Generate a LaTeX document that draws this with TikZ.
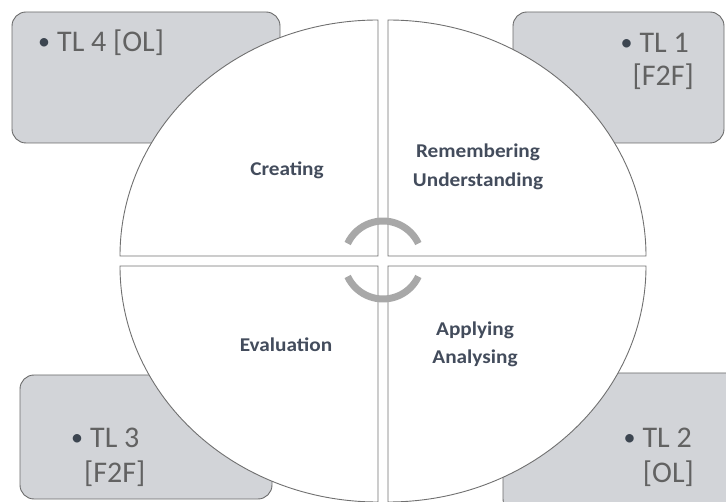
\documentclass[tikz,border=0pt]{standalone}
\usepackage{fontspec}
\setmainfont{Carlito}
\newfontfamily\labelfont[FakeStretch=1.09]{Carlito}
\definecolor{boxfill}{HTML}{D2D4D8}
\definecolor{boxline}{HTML}{6A6A6A}
\definecolor{boxtext}{HTML}{626262}
\definecolor{dotcol}{HTML}{3C4550}
\definecolor{quadline}{HTML}{707070}
\definecolor{labeltext}{HTML}{434C5C}
\definecolor{cyclegray}{HTML}{A8A8A8}
\newcommand{\tlbullet}{\raisebox{2.5pt}{\color{dotcol}\fontsize{24}{24}\selectfont\textbullet}\hspace{7pt}}
\begin{document}
\begin{tikzpicture}[x=1pt,y=1pt,
  tlbox/.style={draw=boxline,fill=boxfill,line width=0.9pt,rounded corners=14pt},
  quad/.style={draw=quadline,fill=white,line width=0.9pt},
  tltext/.style={inner sep=0pt,text=boxtext,font=\fontsize{30}{33}\selectfont},
  stage/.style={inner sep=0pt,text=labeltext,font=\labelfont\bfseries\fontsize{19.5}{24}\selectfont,anchor=base},
  cyc/.style={draw=cyclegray,line width=7pt}]
\useasboundingbox (0,0) rectangle (726,501);

% teaching-and-learning boxes in the corners
\draw[tlbox] (12,358) rectangle (280,489);
\draw[tlbox] (513,358) rectangle (724,489);
\draw[tlbox] (20,2) rectangle (272,126);
\draw[tlbox] (503,-12) rectangle (740,128);

% four quadrants of the cycle
\def\ra{258}\def\rb{236}
\draw[quad] (378,245) -- (378,481) arc[start angle=90,end angle=180,x radius=\ra,y radius=\rb] -- cycle;
\draw[quad] (388,245) -- (388,481) arc[start angle=90,end angle=0,x radius=\ra,y radius=\rb] -- cycle;
\draw[quad] (378,235) -- (378,-1) arc[start angle=270,end angle=180,x radius=\ra,y radius=\rb] -- cycle;
\draw[quad] (388,235) -- (388,-1) arc[start angle=-90,end angle=0,x radius=\ra,y radius=\rb] -- cycle;

% cycle arrows in the middle
\coordinate (hub) at (383,241);
\draw[cyc] (hub) ++(155:39) arc[start angle=155,end angle=25,radius=39];
\draw[cyc] (hub) ++(205:39) arc[start angle=205,end angle=335,radius=39];

% stage names
\node[stage] (creating) at (287,325) {Creating};
\node[stage] (remember) at (478,343) {Remembering};
\node[stage] (understand) at (478,314) {Understanding};
\node[stage] (evaluation) at (286,149) {Evaluation};
\node[stage] (applying) at (475,165) {Applying};
\node[stage] (analysing) at (475,137) {Analysing};

% box texts
\node[tltext,anchor=base west] (tl4) at (38,449) {\tlbullet TL 4 [OL]};
\node[tltext,anchor=base east] (tl1a) at (689,448) {\tlbullet TL 1};
\node[tltext,anchor=base east] (tl1b) at (694,415) {[F2F]};
\node[tltext,anchor=base west] (tl3a) at (71,53) {\tlbullet TL 3};
\node[tltext,anchor=base west] (tl3b) at (84,18) {[F2F]};
\node[tltext,anchor=base east] (tl2a) at (692,53) {\tlbullet TL 2};
\node[tltext,anchor=base east] (tl2b) at (694,18) {[OL]};
\end{tikzpicture}
\end{document}
